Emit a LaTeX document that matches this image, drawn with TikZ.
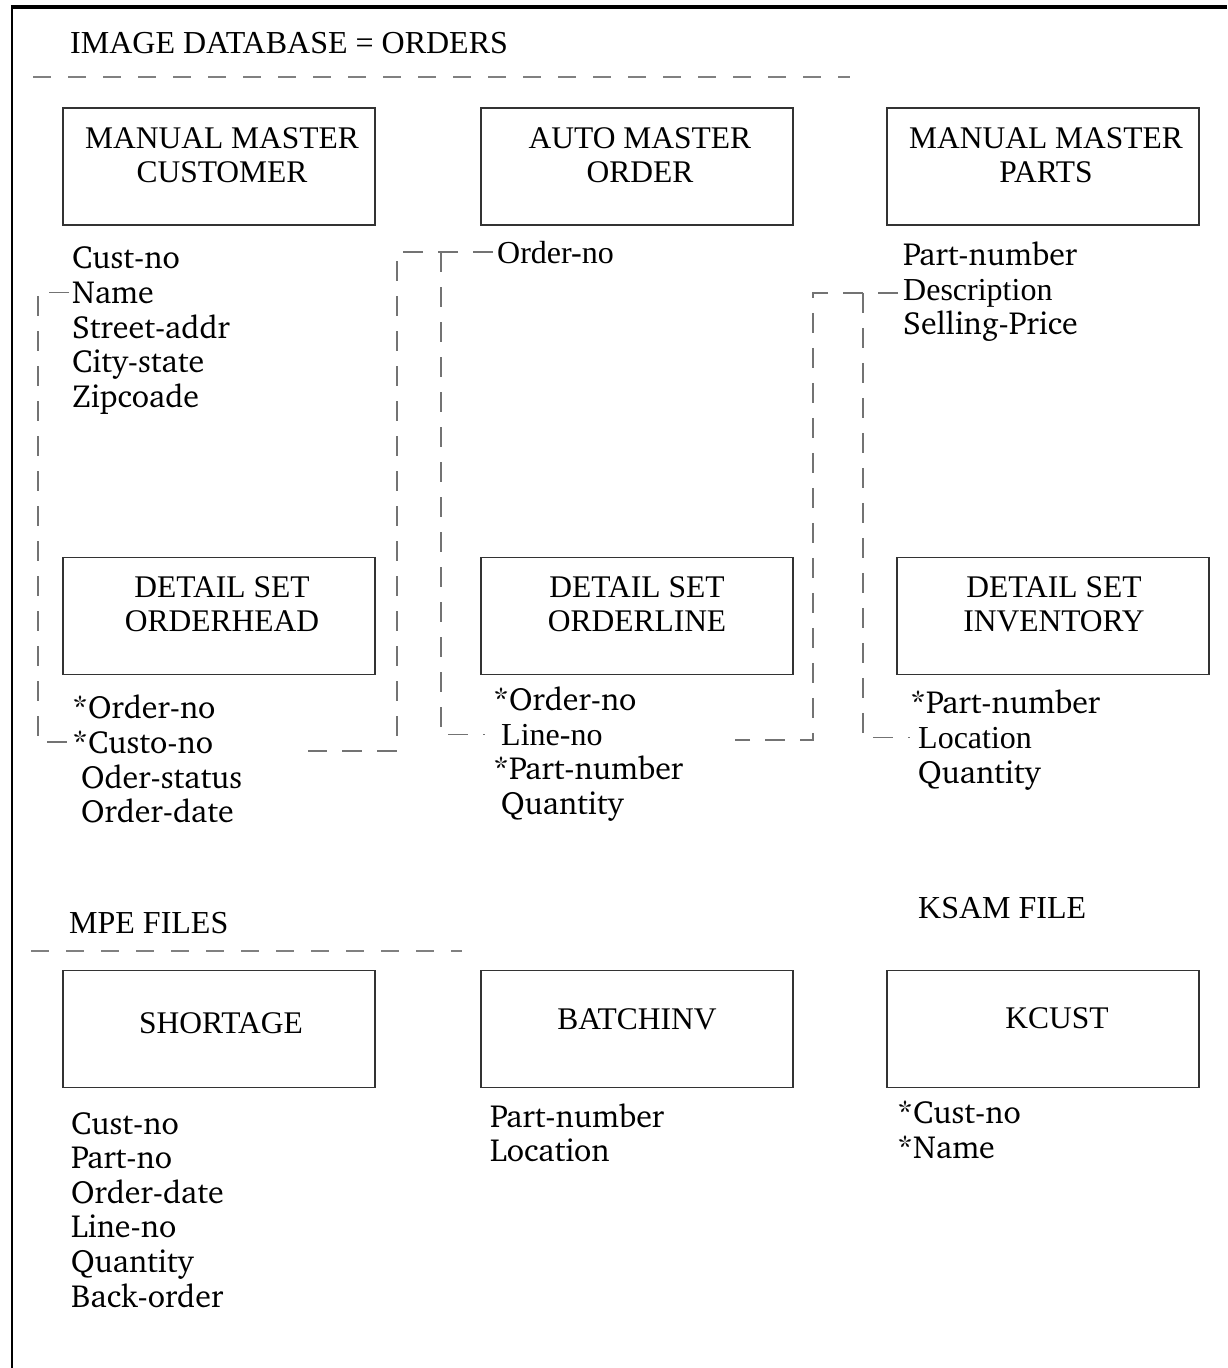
\documentclass[tikz,border=0pt]{standalone}
\usepackage[T1]{fontenc}
\usepackage{fontspec}
\setmainfont{Liberation Serif}
\newcommand\chrfont{\fontencoding{T1}\fontfamily{bch}\selectfont}
\begin{document}
\begin{tikzpicture}[x=1pt,y=-1pt,
  box/.style={draw=black!80, line width=1.2pt, minimum width=312pt, minimum height=117pt, inner sep=0},
  bt/.style={font=\fontsize{31.5}{34}\selectfont, anchor=base, inner sep=0},
  ttl/.style={font=\fontsize{32}{34}\selectfont, anchor=base west, inner sep=0},
  fld/.style={font=\chrfont\fontsize{32}{34}\selectfont, anchor=base west, inner sep=0},
  fldt/.style={font=\fontsize{32}{34}\selectfont, anchor=base west, inner sep=0},
  conn/.style={draw=black!55, line width=1.5pt, dash pattern=on 20pt off 15pt},
  sep/.style={draw=black!50, line width=2pt, dash pattern=on 18pt off 17pt}]
\useasboundingbox (0,0) rectangle (1227,1368);
% outer frame
\draw[line width=2.5pt] (12,1368) -- (12,7);
\draw[line width=3.5pt] (10.75,7) -- (1227,7);
% headings
\node[ttl] (title) at (70,53) {IMAGE DATABASE = ORDERS};
\draw[sep] (33,77) -- (850,77);
\node[ttl] (mpe) at (69,933) {MPE FILES};
\draw[sep] (31,951) -- (462,951);
\node[ttl] (ksam) at (918,918) {KSAM FILE};
% boxes row 1
\node[box] (cust) at (219,166.5) {};
\node[bt] at (222,148) {MANUAL MASTER};
\node[bt] at (222,182) {CUSTOMER};
\node[box] (order) at (637,166.5) {};
\node[bt] at (640,148) {AUTO MASTER};
\node[bt] at (640,182) {ORDER};
\node[box] (parts) at (1043,166.5) {};
\node[bt] at (1046,148) {MANUAL MASTER};
\node[bt] at (1046,182) {PARTS};
% boxes row 2
\node[box] (ohead) at (219,616) {};
\node[bt] at (222,597) {DETAIL SET};
\node[bt] at (222,631) {ORDERHEAD};
\node[box] (oline) at (637,616) {};
\node[bt] at (637,597) {DETAIL SET};
\node[bt] at (637,631) {ORDERLINE};
\node[box] (inv) at (1053,616) {};
\node[bt] at (1054,597) {DETAIL SET};
\node[bt] at (1054,631) {INVENTORY};
% boxes row 3
\node[box] (short) at (219,1029) {};
\node[bt] at (221,1033) {SHORTAGE};
\node[box] (batch) at (637,1029) {};
\node[bt] at (637,1029) {BATCHINV};
\node[box] (kcust) at (1043,1029) {};
\node[bt] at (1057,1028) {KCUST};
% customer fields
\node[fld] (ccust) at (72,268) {Cust-no};
\node[fld] (cname) at (72,303) {Name};
\node[fld] (cstreet) at (72,338) {Street-addr};
\node[fld] (ccity) at (72,372) {City-state};
\node[fld] (czip) at (72,407) {Zipcoade};
% order fields
\node[fldt] (ordno) at (497,263) {Order-no};
% parts fields
\node[fld] (ppart) at (903,265) {Part-number};
\node[fldt] (pdesc) at (903,300) {Description};
\node[fld] (psell) at (903,334) {Selling-Price};
% orderhead fields
\node[fld] (hord) at (72,718) {*Order-no};
\node[fld] (hcusto) at (72,753) {*Custo-no};
\node[fld] (hstat) at (81,788) {Oder-status};
\node[fld] (hdate) at (81,822) {Order-date};
% orderline fields
\node[fld] (lord) at (493,710) {*Order-no};
\node[fldt] (lline) at (501,745) {Line-no};
\node[fld] (lpart) at (493,779) {*Part-number};
\node[fld] (lqty) at (501,814) {Quantity};
% inventory fields
\node[fld] (ipart) at (910,713) {*Part-number};
\node[fldt] (iloc) at (918,748) {Location};
\node[fld] (iqty) at (918,783) {Quantity};
% shortage fields
\node[fld] (scust) at (71,1134) {Cust-no};
\node[fld] (spart) at (71,1168) {Part-no};
\node[fld] (sdate) at (71,1203) {Order-date};
\node[fld] (sline) at (71,1237) {Line-no};
\node[fld] (sqty) at (71,1272) {Quantity};
\node[fld] (sback) at (71,1307) {Back-order};
% batchinv fields
\node[fld] (bpart) at (490,1127) {Part-number};
\node[fld] (bloc) at (490,1161) {Location};
% kcust fields
\node[fld] (kcno) at (897,1123) {*Cust-no};
\node[fld] (kname) at (897,1158) {*Name};
% connector helper coordinates
\coordinate (vA) at (397,0);
\coordinate (vB) at (441,0);
\coordinate (vC) at (813,0);
\coordinate (vD) at (863,0);
\coordinate (endA) at (308,751);
\coordinate (endC) at (735,740);
% connectors
\draw[conn] ([xshift=-3pt]cname.west) -- ++(-31,0) |- ([xshift=-3pt]hcusto.west);
\draw[conn] ([xshift=-4pt]ordno.west) -| (vA |- endA) -- (endA);
\draw[conn] (ordno.west -| vB) |- ([xshift=-16pt]lline.west);
\draw[conn] ([xshift=-5pt]pdesc.west) -| (vC |- endC) -- (endC);
\draw[conn] (pdesc.west -| vD) |- ([xshift=-8pt]iloc.west);
\end{tikzpicture}
\end{document}
